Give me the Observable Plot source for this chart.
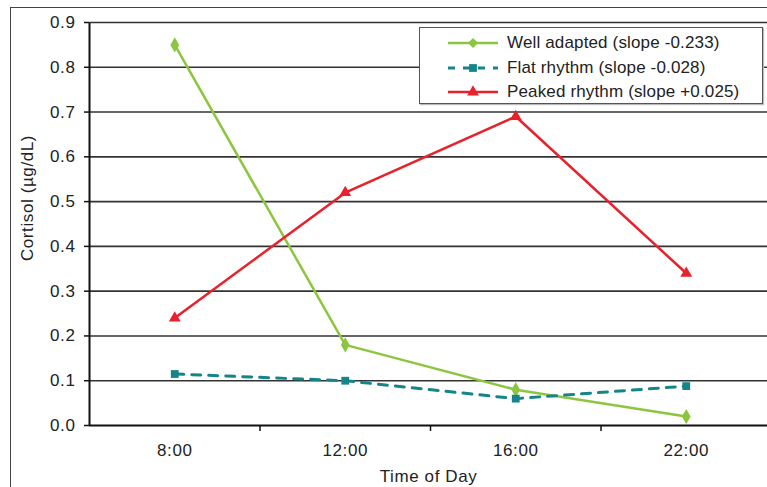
<!DOCTYPE html>
<html>
<head>
<meta charset="utf-8">
<script src="https://cdn.jsdelivr.net/npm/d3@7"></script>
<script src="https://cdn.jsdelivr.net/npm/@observablehq/plot@0.6"></script>
<style>
  html, body { margin: 0; padding: 0; background: #fff; overflow: hidden; }
  #wrap { position: relative; width: 767px; height: 487px; overflow: hidden; font-family: "Liberation Sans", Arial, Helvetica, sans-serif; }
  #frame { position: absolute; left: 10px; top: 7px; width: 900px; height: 700px; border-left: 1.5px solid #444; border-top: 1.5px solid #444; pointer-events: none; }
  #legend { position: absolute; left: 419px; top: 27px; width: 342px; height: 75px; background: #fff; border: 1.5px solid #555; box-shadow: 1px 1px 1px #bbb; }
  .row { position: absolute; left: 0; height: 20px; display: flex; align-items: center; }
  .row svg { margin-left: 28px; }
  .row span { margin-left: 9px; font-size: 17px; letter-spacing: 0.15px; color: #222; white-space: nowrap; }
</style>
</head>
<body>
<div id="wrap"></div>
<script>
// ---- data ----
const times = ["8:00", "12:00", "16:00", "22:00"];
const seriesNames = ["Well adapted (slope -0.233)", "Flat rhythm (slope -0.028)", "Peaked rhythm (slope +0.025)"];
const wellAdapted = [0.85, 0.18, 0.08, 0.02];
const flatRhythm = [0.115, 0.10, 0.06, 0.088];
const peakedRhythm = [0.24, 0.52, 0.69, 0.34];
const yTicks = [0, 0.1, 0.2, 0.3, 0.4, 0.5, 0.6, 0.7, 0.8, 0.9];
const yTitle = "Cortisol (µg/dL)";
const xTitle = "Time of Day";

const colors = ["#8cc63e", "#16858a", "#e8212b"];
const symbols = ["diamond", "square", "triangle"];
const radii = [4.6, 4.4, 4.4];

const seriesValues = [wellAdapted, flatRhythm, peakedRhythm];
const rows = seriesValues.map((vals, s) => vals.map((v, i) => ({i: i + 0.5, v, s})));

const font = "'Liberation Sans', Arial, Helvetica, sans-serif";

const lineMarks = rows.flatMap((data, s) => [
  Plot.line(data, {x: "i", y: "v", stroke: colors[s], strokeWidth: s === 1 ? 3 : 2.5,
    strokeDasharray: s === 1 ? "9,8" : null}),
  Plot.dot(data, {x: "i", y: "v", fill: colors[s], stroke: "none", symbol: symbols[s], r: radii[s]})
]);

const chart = Plot.plot({
  width: 767,
  height: 487,
  marginLeft: 89,
  marginRight: 0,
  marginTop: 22,
  marginBottom: 62,
  style: {fontFamily: font, fontSize: "17px", letterSpacing: "0.6px", color: "#222", background: "transparent"},
  x: {domain: [0, times.length], range: [89, 771]},
  y: {domain: [0, 0.9], range: [425, 22]},
  marks: [
    Plot.ruleY(yTicks.filter(d => d > 0), {stroke: "#333", strokeWidth: 1.6}),
    Plot.axisY({ticks: yTicks, tickFormat: d3.format(".1f"), tickSize: 5, tickPadding: 9, label: null, fontSize: 17, stroke: "#111", strokeWidth: 1.5}),
    Plot.axisX({ticks: times.map((t, i) => i + 0.5), tickFormat: (d, k) => times[k], tickSize: 0, tickPadding: 18, label: null, fontSize: 17}),
    Plot.axisX({ticks: d3.range(1, times.length), tickFormat: () => "", tickSize: 6, label: null, stroke: "#111", strokeWidth: 1.5}),
    Plot.ruleY([0], {stroke: "#111", strokeWidth: 2}),
    Plot.ruleX([0], {y1: 0, y2: 0.9, stroke: "#111", strokeWidth: 2, dy: 1}),
    ...lineMarks,
    Plot.text([yTitle], {frameAnchor: "left", textAnchor: "middle", lineAnchor: "middle", rotate: -90, dx: -62, dy: -26, fontSize: 17, fill: "#222"}),
    Plot.text([xTitle], {frameAnchor: "bottom", lineAnchor: "middle", dy: 51, fontSize: 17, fill: "#222"})
  ]
});

const wrap = document.getElementById("wrap");
wrap.appendChild(chart);
const frame = document.createElement("div");
frame.id = "frame";
wrap.appendChild(frame);

// legend
const legend = document.createElement("div");
legend.id = "legend";
const rowTops = [5, 30, 54];
seriesNames.forEach((name, s) => {
  const row = document.createElement("div");
  row.className = "row";
  row.style.top = rowTops[s] + "px";
  const svg = d3.create("svg").attr("width", 50).attr("height", 16);
  svg.append("line").attr("x1", 0).attr("x2", 50).attr("y1", 8).attr("y2", 8)
    .attr("stroke", colors[s]).attr("stroke-width", s === 1 ? 3 : 2.5)
    .attr("stroke-dasharray", s === 1 ? "7,8" : null);
  const sym = {diamond: d3.symbolDiamond2, square: d3.symbolSquare, triangle: d3.symbolTriangle}[symbols[s]];
  svg.append("path").attr("transform", "translate(25,8)")
    .attr("d", d3.symbol(sym, Math.PI * radii[s] * radii[s])())
    .attr("fill", colors[s]);
  row.appendChild(svg.node());
  const span = document.createElement("span");
  span.textContent = name;
  row.appendChild(span);
  legend.appendChild(row);
});
wrap.appendChild(legend);
</script>
</body>
</html>
